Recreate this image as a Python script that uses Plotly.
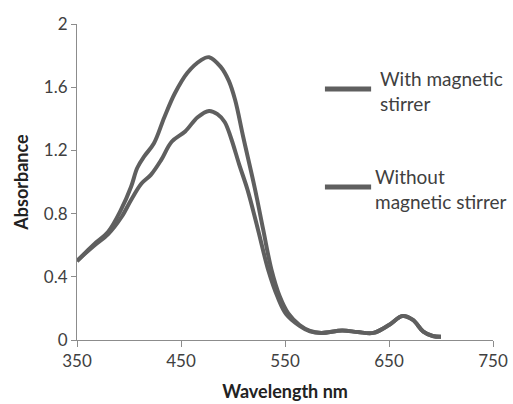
import plotly.graph_objects as go

wavelength_with = [350, 360, 367, 380, 392, 402, 408, 415, 424, 434, 444, 456, 469, 477, 488, 496, 502, 510, 521, 529, 537, 545, 553, 564, 574, 585, 605, 620, 635, 650, 663, 673, 683, 692, 700]
absorb_with = [0.50, 0.565, 0.61, 0.685, 0.82, 0.97, 1.09, 1.165, 1.245, 1.41, 1.56, 1.69, 1.77, 1.79, 1.73, 1.64, 1.52, 1.28, 0.96, 0.70, 0.445, 0.275, 0.17, 0.095, 0.058, 0.045, 0.06, 0.05, 0.045, 0.095, 0.152, 0.127, 0.053, 0.025, 0.02]

wavelength_without = [350, 360, 367, 380, 393, 402, 412, 421, 431, 441, 454, 466, 477, 485, 492, 498, 506, 514, 524, 534, 543, 551, 564, 574, 585, 605, 620, 635, 650, 663, 673, 683, 692, 700]
absorb_without = [0.50, 0.56, 0.60, 0.67, 0.78, 0.886, 0.99, 1.045, 1.14, 1.255, 1.32, 1.41, 1.45, 1.43, 1.38, 1.28, 1.11, 0.95, 0.70, 0.44, 0.27, 0.165, 0.09, 0.055, 0.045, 0.06, 0.05, 0.045, 0.095, 0.152, 0.127, 0.053, 0.025, 0.02]

series_names = ["With magnetic<br>stirrer", "Without<br>magnetic stirrer"]

x_ticks = [350, 450, 550, 650, 750]
y_ticks = [0, 0.4, 0.8, 1.2, 1.6, 2]
y_tick_labels = ["0", "0.4", "0.8", "1.2", "1.6", "2"]

line_color = "#5f5f5f"
axis_color = "#8c8c8c"
text_color = "#404040"
font_family = "Lato, 'Open Sans', sans-serif"

fig = go.Figure()
for wl, ab, nm in [(wavelength_with, absorb_with, series_names[0]),
                   (wavelength_without, absorb_without, series_names[1])]:
    fig.add_trace(go.Scatter(
        x=wl, y=ab, mode="lines", name=nm,
        line=dict(color=line_color, width=4, shape="spline", smoothing=1.0),
    ))

# manual legend (paper coordinates of the plot area)
legend_items = [
    dict(line_x=(0.596, 0.707), line_y=0.794, text_x=0.7236, text_y=0.788, text=series_names[0]),
    dict(line_x=(0.596, 0.707), line_y=0.484, text_x=0.7115, text_y=0.479, text=series_names[1]),
]
for it in legend_items:
    fig.add_shape(type="line", xref="paper", yref="paper",
                  x0=it["line_x"][0], x1=it["line_x"][1], y0=it["line_y"], y1=it["line_y"],
                  line=dict(color=line_color, width=5))
    fig.add_annotation(xref="paper", yref="paper", x=it["text_x"], y=it["text_y"],
                       text=it["text"], showarrow=False, xanchor="left", yanchor="middle",
                       align="left", font=dict(size=19, color=text_color, family=font_family))

fig.update_layout(
    width=513, height=404,
    margin=dict(l=77, r=20, t=24, b=64),
    paper_bgcolor="white", plot_bgcolor="white",
    font=dict(family=font_family, size=17, color=text_color),
    showlegend=False,
    xaxis=dict(
        range=[350, 750], tickvals=x_ticks, ticktext=[str(v) for v in x_ticks],
        showgrid=False, zeroline=False, showline=True, linecolor=axis_color, linewidth=1,
        ticks="outside", ticklen=6, tickcolor=axis_color, automargin=False,
        title=dict(text="<b>Wavelength nm</b>", font=dict(size=18, color="#222222"), standoff=14),
    ),
    yaxis=dict(
        range=[0, 2], tickvals=y_ticks, ticktext=y_tick_labels,
        showgrid=False, zeroline=False, showline=True, linecolor=axis_color, linewidth=1,
        ticks="outside", ticklen=5, tickcolor=axis_color, automargin=False,
        title=dict(text="<b>Absorbance</b>", font=dict(size=18, color="#222222"), standoff=10),
    ),
)

fig.write_html("out.html")
